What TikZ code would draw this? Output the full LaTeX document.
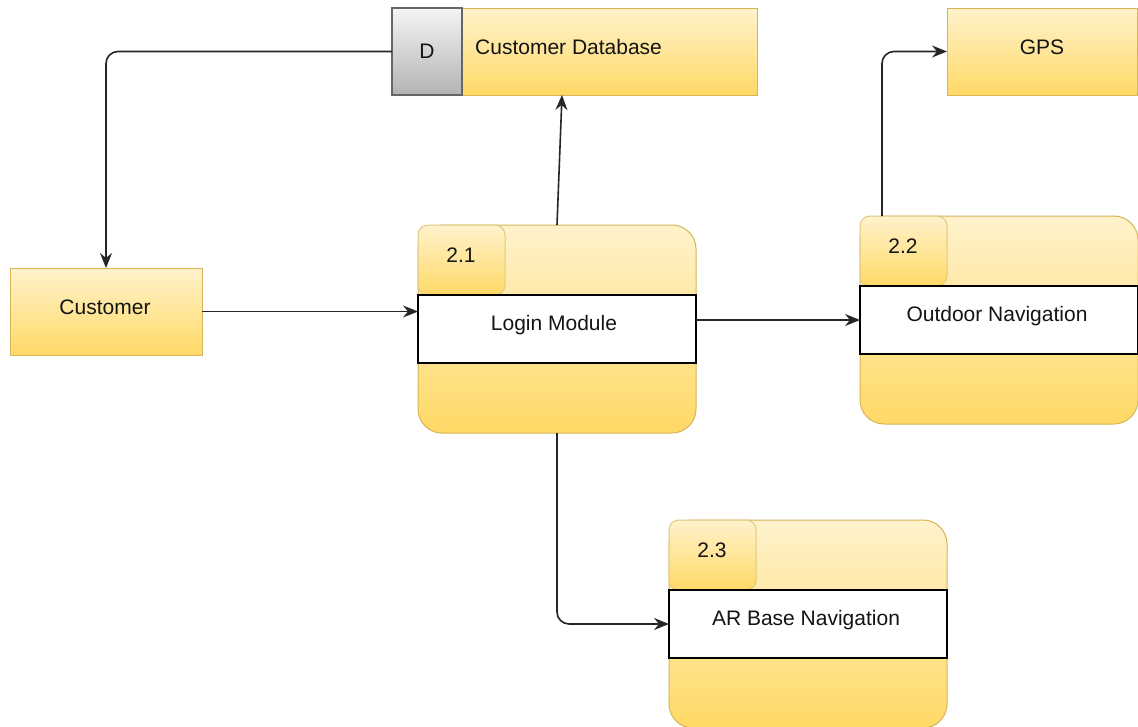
\documentclass[tikz,border=0pt]{standalone}
\usepackage{fontspec}
\setmainfont{Liberation Sans}
\usetikzlibrary{arrows.meta,calc}

\definecolor{fillTop}{HTML}{FFF2CC}
\definecolor{fillBot}{HTML}{FFD966}
\definecolor{edgeY}{HTML}{D6B656}
\definecolor{grayTop}{HTML}{F5F5F5}
\definecolor{grayBot}{HTML}{B3B3B3}
\definecolor{edgeG}{HTML}{666666}
\definecolor{inkC}{HTML}{141414}

\tikzset{
  ybox/.style={draw=edgeY, top color=fillTop, bottom color=fillBot,
    inner sep=0pt, outer sep=0pt, anchor=north west, line width=1pt,
    font=\fontsize{21}{25}\selectfont, text=inkC},
  procbody/.style={ybox, rounded corners=24pt, minimum width=278pt, minimum height=208pt},
  proctab/.style={ybox, draw=edgeY!75, rounded corners=10pt, minimum width=87pt, minimum height=70pt},
  band/.style={draw=black, fill=white, line width=1.2pt, inner sep=0pt, outer sep=0pt,
    anchor=north west, minimum width=278pt, minimum height=68pt,
    font=\fontsize{21}{25}\selectfont, text=inkC},
  dcell/.style={draw=edgeG, top color=grayTop, bottom color=grayBot, line width=1.2pt,
    inner sep=0pt, outer sep=0pt, anchor=north west, minimum width=70pt, minimum height=87pt,
    font=\fontsize{21}{25}\selectfont, text=inkC},
  flow/.style={draw=black!85, line width=1.6pt, rounded corners=12pt,
    -{Stealth[length=15pt,width=12pt,inset=5pt]}},
  lbl/.style={font=\fontsize{21}{25}\selectfont, text=inkC, inner sep=0pt}
}

\begin{document}
\begin{tikzpicture}[x=1pt, y=-1pt]
\useasboundingbox (0,0) rectangle (1138,726);
\fill[white] (0,0) rectangle (1138,726);

% data store with its identifier cell
\node[ybox, minimum width=365pt, minimum height=87pt] (db) at (392,8) {};
\node[dcell] (dbid) at (392,8) {D};
\node[lbl, anchor=west] (dbname) at (475,47) {Customer Database};

% external entities
\node[ybox, minimum width=192pt, minimum height=87pt] (cust) at (10,268) {};
\node[lbl] (custlbl) at (105,307) {Customer};
\node[ybox, minimum width=190pt, minimum height=87pt] (gps) at (947,8) {};
\node[lbl] (gpslbl) at (1042,47) {GPS};

% process 2.1
\node[procbody] (p1) at (418,225) {};
\node[proctab] (p1tab) at (418,225) {};
\node[lbl] (p1num) at (461,255) {2.1};
\node[band] (p1band) at (418,295) {};
\node[lbl] (p1lbl) at (554,325) {Login Module};

% process 2.2
\node[procbody] (p2) at (860,216) {};
\node[proctab] (p2tab) at (860,216) {};
\node[lbl] (p2num) at (903,246) {2.2};
\node[band] (p2band) at (860,286) {};
\node[lbl] (p2lbl) at (997,316) {Outdoor Navigation};

% process 2.3
\node[procbody] (p3) at (669,520) {};
\node[proctab] (p3tab) at (669,520) {};
\node[lbl] (p3num) at (712,550) {2.3};
\node[band] (p3band) at (669,590) {};
\node[lbl] (p3lbl) at (806,620) {AR Base Navigation};

% data flows
\draw[flow] (db.west) -| (cust.north);
\draw[flow] (cust.east) -- (cust.east -| p1.west);
\draw[flow] (p1.north) -- ([xshift=-12.5pt]db.south);
\draw[flow] (p2.west -| p1.east) -- (p2.west);
\draw[flow] ([xshift=22pt]p2.north west) |- (gps.west);
\draw[flow] (p1.south) |- (p3.west);
\end{tikzpicture}
\end{document}
